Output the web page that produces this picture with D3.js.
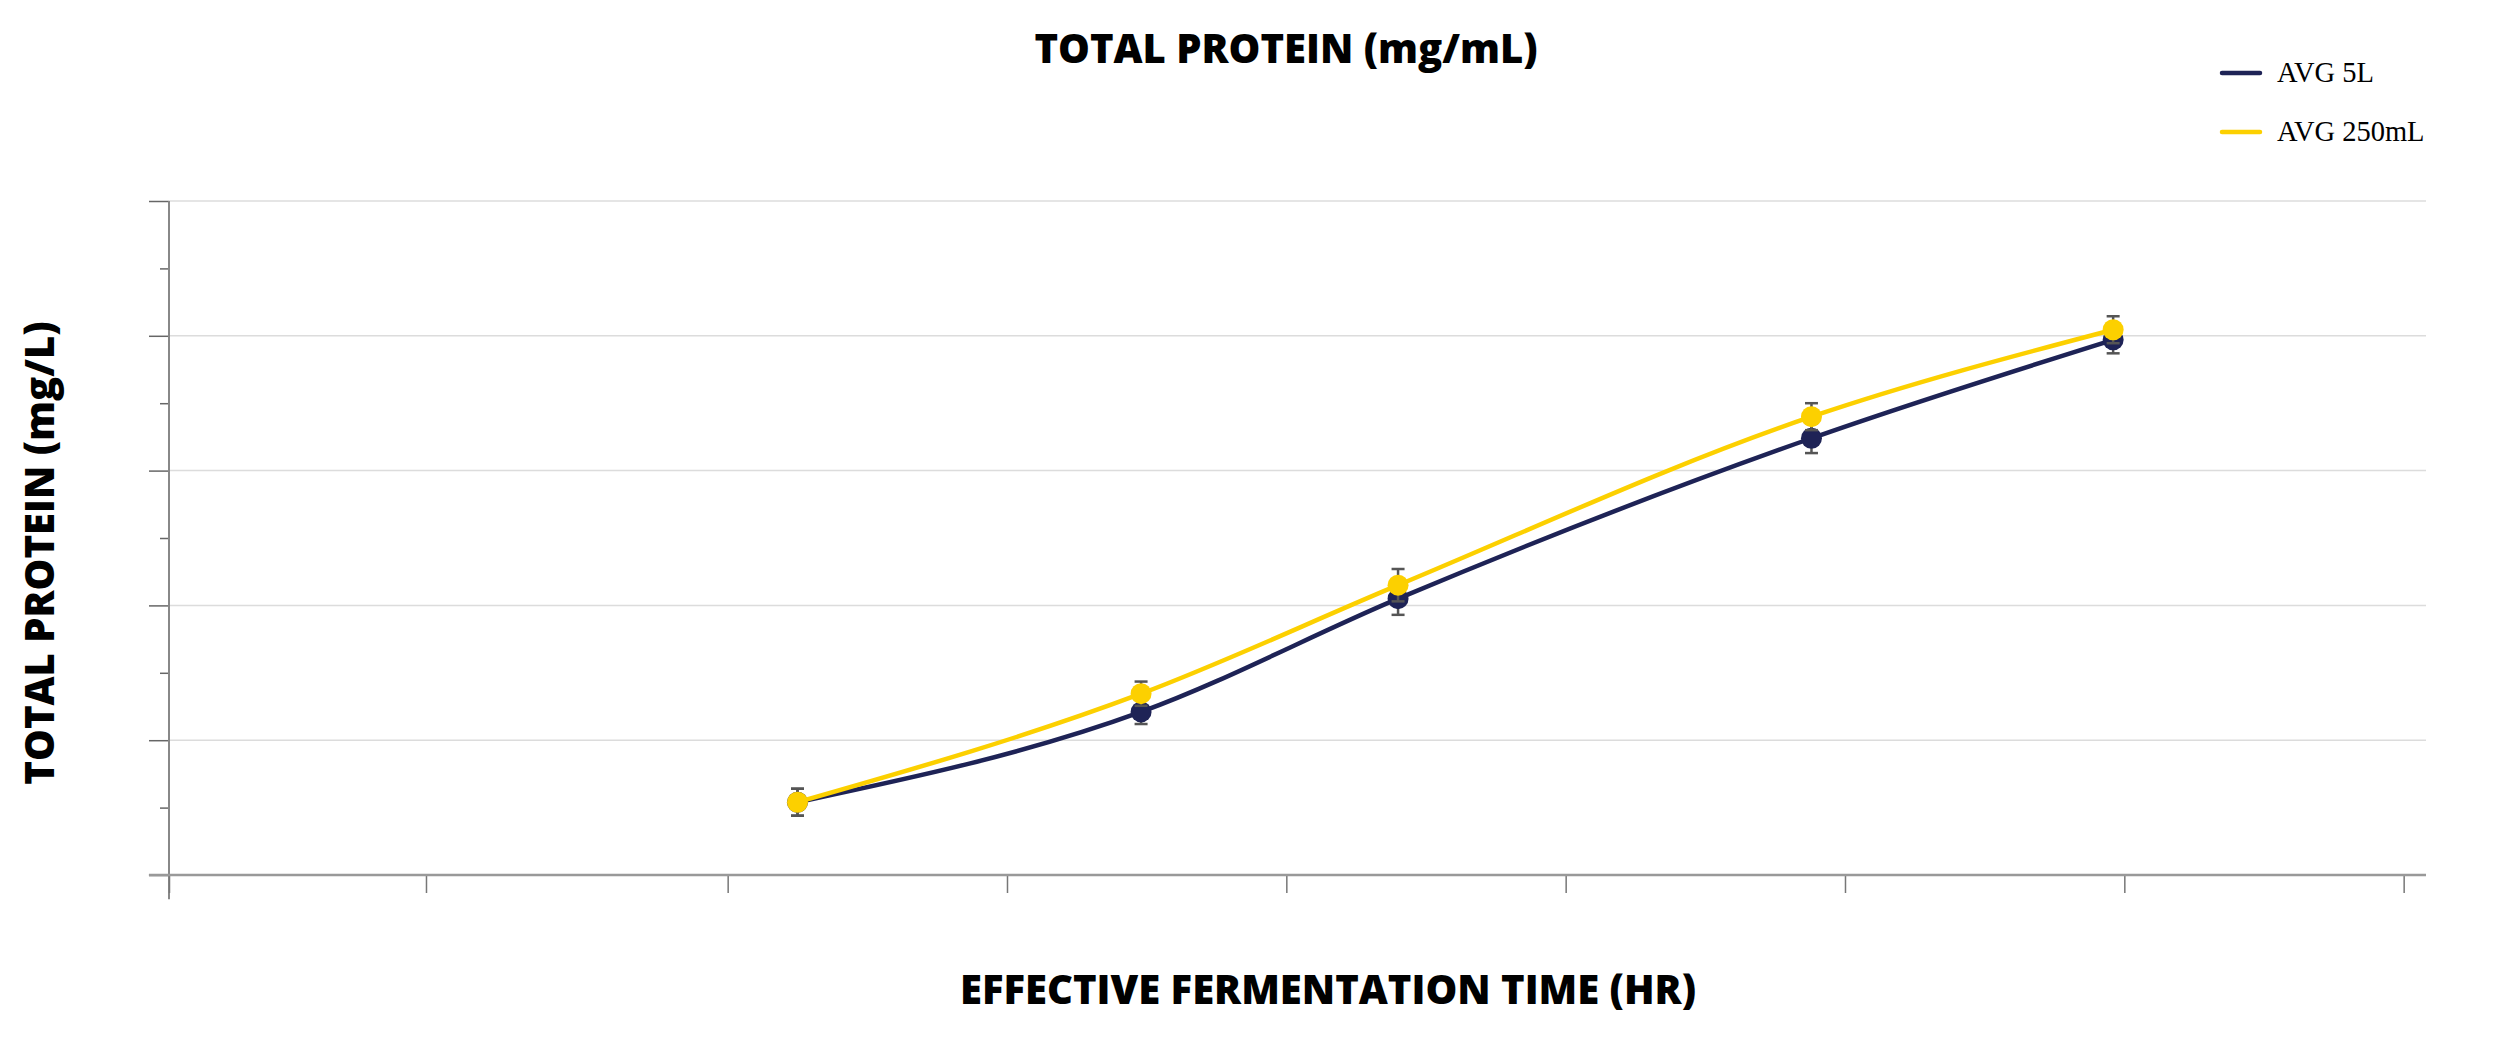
<!DOCTYPE html>
<html lang="en">
<head>
<meta charset="UTF-8"/>
<title>Total Protein</title>
<script src="https://cdn.jsdelivr.net/npm/d3@7"></script>
<style>
  body { margin: 0; background: #fff; }
  .title { font-family: "Open Sans", sans-serif; font-weight: 800; fill: #000; }
  .legend text { font-family: "Liberation Serif", serif; font-size: 28.5px; fill: #000; }
</style>
</head>
<body>
<script>
// data (axis labels are hidden in the original)
var hours = [22.5, 34.8, 44.0, 58.8, 69.6];
var avg5L = [1.08, 2.42, 4.10, 6.48, 7.94];
var avg250mL = [1.08, 2.69, 4.30, 6.80, 8.09];
var err5L = [0.2, 0.18, 0.24, 0.22, 0.2];
var err250mL = [0.2, 0.18, 0.24, 0.2, 0.2];
var xTicks = [0, 9.2, 20, 30, 40, 50, 60, 70, 80];
var yMajor = [0, 2, 4, 6, 8, 10];
var yMinor = [1, 3, 5, 7, 9];

var w = 2510, h = 1053;
var plotLeft = 169, plotRight = 2426, plotTop = 201, plotBottom = 875;

var navy = "#1e2356", yellow = "#fcd000";

var svg = d3.select("body").append("svg")
  .attr("width", w)
  .attr("height", h);

var x = d3.scaleLinear().domain([0, 80.8]).range([plotLeft, plotRight]);
var y = d3.scaleLinear().domain([0, 10]).range([plotBottom, plotTop]);

// gridlines
svg.append("g")
  .selectAll("line")
  .data(yMajor.slice(1))
  .enter().append("line")
  .attr("x1", plotLeft).attr("x2", plotRight)
  .attr("y1", function(d) { return y(d); })
  .attr("y2", function(d) { return y(d); })
  .attr("stroke", "#dcdcdc")
  .attr("stroke-width", 1.5);

// y axis
var yAxis = d3.axisLeft(y).tickValues(yMajor).tickSize(20).tickFormat("");
var yAxisMinor = d3.axisLeft(y).tickValues(yMinor).tickSize(9).tickFormat("");
var gy = svg.append("g").attr("transform", "translate(" + plotLeft + ",0)").call(yAxis);
var gy2 = svg.append("g").attr("transform", "translate(" + plotLeft + ",0)").call(yAxisMinor);
[gy, gy2].forEach(function(g) {
  g.select(".domain").remove();
  g.selectAll(".tick line").attr("stroke", "#666").attr("stroke-width", 1.5);
});
svg.append("line")
  .attr("x1", plotLeft).attr("x2", plotLeft)
  .attr("y1", y(10)).attr("y2", y(-0.36))
  .attr("stroke", "#888").attr("stroke-width", 2);

// x axis
var xAxis = d3.axisBottom(x).tickValues(xTicks).tickSize(18).tickFormat("");
var gx = svg.append("g").attr("transform", "translate(0," + plotBottom + ")").call(xAxis);
gx.select(".domain").remove();
gx.selectAll(".tick line").attr("stroke", "#777").attr("stroke-width", 1.5);
svg.append("line")
  .attr("x1", x(-0.72)).attr("x2", plotRight)
  .attr("y1", plotBottom).attr("y2", plotBottom)
  .attr("stroke", "#999").attr("stroke-width", 2.5);

var line = d3.line()
  .x(function(d) { return x(d[0]); })
  .y(function(d) { return y(d[1]); })
  .curve(d3.curveMonotoneX);

function drawSeries(vals, errs, color) {
  var pts = hours.map(function(t, i) { return [t, vals[i], errs[i]]; });
  var g = svg.append("g");
  var eb = g.selectAll(".err").data(pts).enter().append("g").attr("class", "err")
    .attr("stroke", "#555").attr("stroke-width", 2.5);
  eb.append("line")
    .attr("x1", function(d) { return x(d[0]); })
    .attr("x2", function(d) { return x(d[0]); })
    .attr("y1", function(d) { return y(d[1] + d[2]); })
    .attr("y2", function(d) { return y(d[1] - d[2]); });
  eb.append("line")
    .attr("x1", function(d) { return x(d[0]) - 6.5; })
    .attr("x2", function(d) { return x(d[0]) + 6.5; })
    .attr("y1", function(d) { return y(d[1] + d[2]); })
    .attr("y2", function(d) { return y(d[1] + d[2]); });
  eb.append("line")
    .attr("x1", function(d) { return x(d[0]) - 6.5; })
    .attr("x2", function(d) { return x(d[0]) + 6.5; })
    .attr("y1", function(d) { return y(d[1] - d[2]); })
    .attr("y2", function(d) { return y(d[1] - d[2]); });
  g.append("path")
    .datum(pts)
    .attr("d", line)
    .attr("fill", "none")
    .attr("stroke", color)
    .attr("stroke-width", 4.5);
  g.selectAll("circle").data(pts).enter().append("circle")
    .attr("cx", function(d) { return x(d[0]); })
    .attr("cy", function(d) { return y(d[1]); })
    .attr("r", 10.5)
    .attr("fill", color);
}
drawSeries(avg5L, err5L, navy);
drawSeries(avg250mL, err250mL, yellow);

// titles
svg.append("text").attr("class", "title")
  .attr("x", 1286).attr("y", 63)
  .attr("text-anchor", "middle")
  .attr("font-size", 40)
  .text("TOTAL PROTEIN (mg/mL)");

svg.append("text").attr("class", "title")
  .attr("x", 1328).attr("y", 1004)
  .attr("text-anchor", "middle")
  .attr("font-size", 40)
  .text("EFFECTIVE FERMENTATION TIME (HR)");

svg.append("text").attr("class", "title")
  .attr("transform", "translate(54,553) rotate(-90)")
  .attr("text-anchor", "middle")
  .attr("font-size", 40)
  .text("TOTAL PROTEIN (mg/L)");

// legend
var legendItems = [["AVG 5L", navy], ["AVG 250mL", yellow]];
var lg = svg.append("g").attr("class", "legend");
var li = lg.selectAll("g").data(legendItems).enter().append("g")
  .attr("transform", function(d, i) { return "translate(2222," + (73 + i * 59) + ")"; });
li.append("line")
  .attr("x1", 0).attr("x2", 38)
  .attr("stroke", function(d) { return d[1]; })
  .attr("stroke-width", 4.5)
  .attr("stroke-linecap", "round");
li.append("text")
  .attr("x", 55).attr("y", 9)
  .text(function(d) { return d[0]; });
</script>
</body>
</html>
